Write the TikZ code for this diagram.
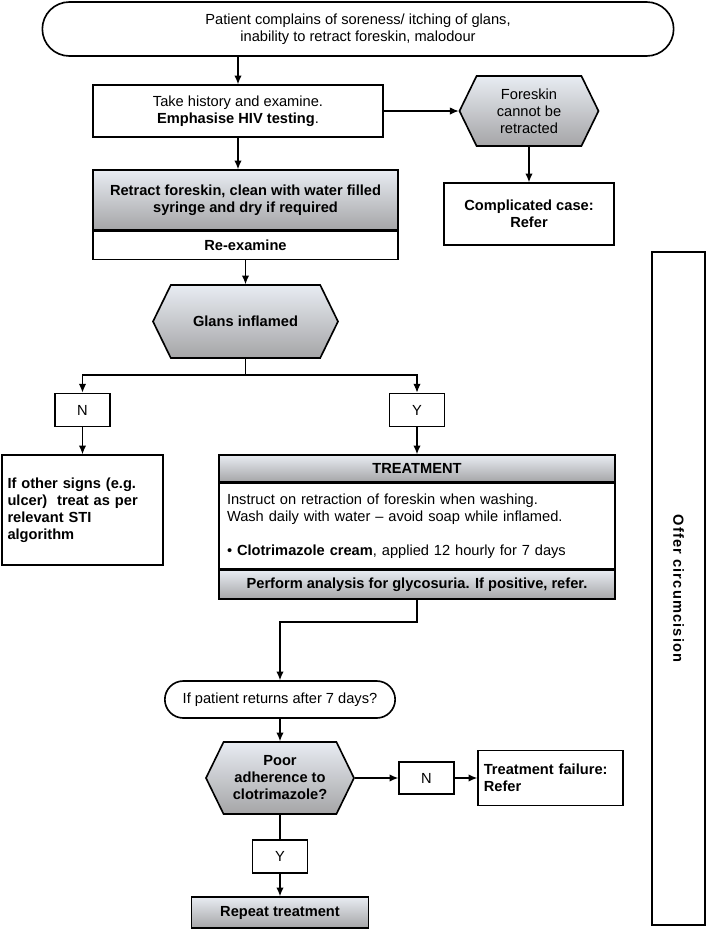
\documentclass[tikz,border=0pt]{standalone}
\usepackage{fontspec}
\setmainfont{Liberation Sans}
\newfontfamily\spacedfont[LetterSpace=8]{Liberation Sans}
\usetikzlibrary{arrows.meta,positioning,shapes.misc,shapes.symbols}
\definecolor{GradTop}{RGB}{232,236,242}
\definecolor{GradBot}{RGB}{165,165,167}
\tikzset{
  >=Latex,
  box/.style={draw=black,line width=1.4pt,fill=white,align=center,font=\fontsize{12.5}{14.5}\selectfont,inner sep=2pt},
  shaded/.style={box,top color=GradTop,bottom color=GradBot},
  hexa/.style={shaded,signal,signal to=west and east,signal pointer angle=128},
  pill/.style={box,rounded rectangle},
  yn/.style={box,minimum width=1.65cm,minimum height=1cm},
  flow/.style={-{Latex[length=2.6mm,width=2.2mm]},line width=0.9pt},
  plain/.style={line width=0.9pt}
}
\begin{document}
\begin{tikzpicture}[x=1cm,y=1cm]
  \useasboundingbox (0,0) rectangle (21.18,-27.87);
  % top part
  \node[pill,minimum width=19.08cm,minimum height=1.62cm] (pill) at (10.74,-0.87) {Patient complains of soreness/ itching of glans,\\inability to retract foreskin, malodour};
  \node[box,minimum width=8.7cm,minimum height=1.56cm] (hist) at (7.14,-3.33) {Take history and examine.\\\textbf{Emphasise HIV testing}.};
  \node[hexa,minimum width=4.17cm,minimum height=2.1cm] (fore) at (15.87,-3.33) {Foreskin\\cannot be\\retracted};
  \node[box,minimum width=5.1cm,minimum height=1.86cm,font=\fontsize{12.5}{14.5}\selectfont\bfseries] (compl) at (15.87,-6.42) {Complicated case:\\Refer};
  \node[shaded,minimum width=9.15cm,minimum height=1.8cm,font=\fontsize{12.5}{14.5}\selectfont\bfseries] (retr) at (7.365,-6.0) {Retract foreskin, clean with water filled\\syringe and dry if required};
  \node[box,minimum width=9.15cm,minimum height=0.84cm,font=\fontsize{12.5}{14.5}\selectfont\bfseries,below=0pt of retr] (reexam) {Re-examine};
  \node[hexa,minimum width=5.55cm,minimum height=2.19cm,font=\fontsize{12.5}{14.5}\selectfont\bfseries] (glans) at (7.365,-9.645) {Glans inflamed};
  % branches
  \coordinate (split) at (7.365,-11.25);
  \node[yn] (nno) at (2.475,-12.3) {N};
  \node[yn] (yes) at (12.51,-12.3) {Y};
  \node[box,minimum width=4.83cm,minimum height=3.3cm,align=left,text width=4.5cm,font=\fontsize{12.5}{14.5}\selectfont\bfseries] (other) at (2.475,-15.3) {If other signs (e.g.\\ulcer)\ \ treat as per\\relevant STI\\algorithm};
  \node[shaded,minimum width=11.88cm,minimum height=0.81cm,font=\fontsize{12.5}{14.5}\selectfont\bfseries] (trhead) at (12.51,-14.055) {TREATMENT};
  \node[box,minimum width=11.88cm,minimum height=2.55cm,align=left,text width=11.4cm,below=0pt of trhead] (trbody) {Instruct on retraction of foreskin when washing.\\Wash daily with water -- avoid soap while inflamed.\\[14.5pt]\textbullet\ \textbf{Clotrimazole cream}, applied 12 hourly for 7 days};
  \node[shaded,minimum width=11.88cm,minimum height=0.87cm,font=\fontsize{12.5}{14.5}\selectfont\bfseries,below=0pt of trbody] (trfoot) {Perform analysis for glycosuria. If positive, refer.};
  % follow up
  \coordinate (bend) at (12.51,-18.66);
  \node[pill,minimum width=7.05cm,minimum height=1.11cm] (ret) at (8.4,-20.985) {If patient returns after 7 days?};
  \node[hexa,minimum width=4.44cm,minimum height=2.16cm,font=\fontsize{12.5}{14.5}\selectfont\bfseries] (poor) at (8.4,-23.34) {Poor\\adherence to\\clotrimazole?};
  \node[yn,minimum height=0.96cm] (nno2) at (12.795,-23.34) {N};
  \node[box,minimum width=4.35cm,minimum height=1.65cm,align=left,text width=4cm,font=\fontsize{12.5}{14.5}\selectfont\bfseries] (fail) at (16.515,-23.34) {Treatment failure:\\Refer};
  \node[yn,minimum height=0.99cm] (yes2) at (8.4,-25.695) {Y};
  \node[shaded,minimum width=5.31cm,minimum height=0.93cm,font=\fontsize{12.5}{14.5}\selectfont\bfseries] (rep) at (8.4,-27.375) {Repeat treatment};
  \node[box,rotate=-90,minimum width=20.19cm,minimum height=1.59cm,font=\fontsize{12.5}{14.5}\spacedfont\bfseries] (offer) at (20.355,-17.655) {Offer circumcision};
  % connectors
  \draw[flow] (pill.south -| hist.north) -- (hist.north);
  \draw[flow] (hist.east) -- (fore.west);
  \draw[flow] (fore.south) -- (compl.north);
  \draw[flow] (hist.south) -- (hist.south |- retr.north);
  \draw[flow] (reexam.south) -- (glans.north);
  \draw[plain] (glans.south) -- (split);
  \draw[flow] (split) -| (nno.north);
  \draw[flow] (split) -| (yes.north);
  \draw[flow] (nno.south) -- (other.north);
  \draw[flow] (yes.south) -- (trhead.north);
  \draw[flow] (trfoot.south) -- (bend) -| (ret.north);
  \draw[flow] (ret.south) -- (poor.north);
  \draw[flow] (poor.east) -- (nno2.west);
  \draw[flow] (nno2.east) -- (fail.west);
  \draw[plain] (poor.south) -- (yes2.north);
  \draw[flow] (yes2.south) -- (rep.north);
\end{tikzpicture}
\end{document}
